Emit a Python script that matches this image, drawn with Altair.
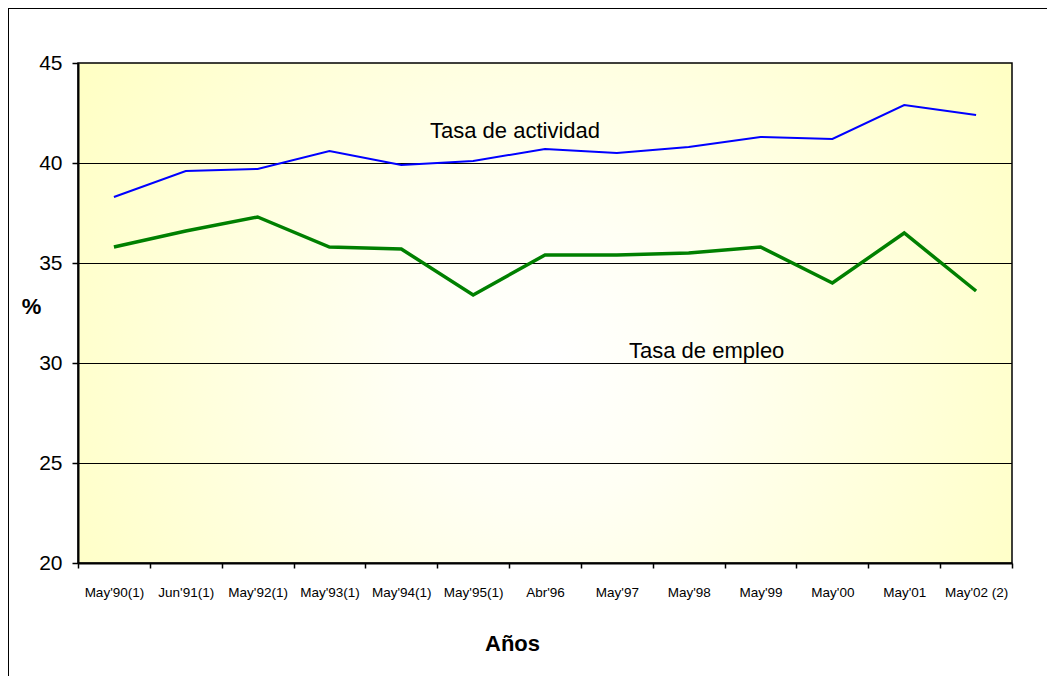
import altair as alt
import pandas as pd

categories = ["May'90(1)", "Jun'91(1)", "May'92(1)", "May'93(1)", "May'94(1)",
              "May'95(1)", "Abr'96", "May'97", "May'98", "May'99", "May'00",
              "May'01", "May'02 (2)"]
actividad = [38.3, 39.6, 39.7, 40.6, 39.9, 40.1, 40.7, 40.5, 40.8, 41.3, 41.2, 42.9, 42.4]
empleo = [35.8, 36.6, 37.3, 35.8, 35.7, 33.4, 35.4, 35.4, 35.5, 35.8, 34.0, 36.5, 33.6]
y_ticks = [20, 25, 30, 35, 40, 45]
grid_values = [25, 30, 35, 40]
label_text = ["Tasa de actividad", "Tasa de empleo"]
label_cat = ["Abr'96", "May'98"]
label_value = [41.6, 30.6]

W, H = 934, 500
FONT = "Liberation Sans"

df_act = pd.DataFrame({"cat": categories, "value": actividad})
df_emp = pd.DataFrame({"cat": categories, "value": empleo})
df_grid = pd.DataFrame({"value": grid_values})
df_one = pd.DataFrame({"a": [0]})

x_scale = alt.Scale(type="band", domain=categories, paddingInner=0, paddingOuter=0)
y_scale = alt.Scale(domain=[20, 45], nice=False, zero=False)

x_axis = alt.Axis(title="Años", labelAngle=0, labelFont=FONT, labelFontSize=13.5,
                  labelColor="#000", labelPadding=17, tickBand="extent", tickSize=5,
                  tickColor="#000", tickWidth=1.5, domainColor="#000", domainWidth=2,
                  grid=False, titleFont=FONT, titleFontSize=22, titleFontWeight="bold",
                  titleColor="#000", titleX=434, titleY=80, titleBaseline="middle",
                  titleAlign="center", zindex=1)
y_axis = alt.Axis(title="%", values=y_ticks, labelFont=FONT, labelFontSize=21,
                  labelColor="#000", labelPadding=10, tickSize=6, tickColor="#000",
                  tickWidth=1.5, domainColor="#000", domainWidth=2, grid=False,
                  titleFont=FONT, titleFontSize=22, titleFontWeight="bold",
                  titleColor="#000", titleAngle=0, titleX=-47, titleY=243,
                  titleAlign="center", titleBaseline="middle", zindex=1)

gradient = {
    "gradient": "radial",
    "x1": 0.5, "y1": 0.55, "r1": 0,
    "x2": 0.5, "y2": 0.55, "r2": 0.62,
    "stops": [
        {"offset": 0, "color": "#ffffff"},
        {"offset": 0.25, "color": "#fffff4"},
        {"offset": 1, "color": "#ffffc0"},
    ],
}

frame_left = alt.Chart(df_one).mark_rule(color="#000", strokeWidth=1).encode(
    x=alt.value(-69.5), y=alt.value(-55), y2=alt.value(700)
)
frame_top = alt.Chart(df_one).mark_rule(color="#000", strokeWidth=1).encode(
    x=alt.value(-70), x2=alt.value(1100), y=alt.value(-54.5)
)

background = alt.Chart(df_one).mark_rect(fill=gradient, stroke="#000", strokeWidth=1.5).encode(
    x=alt.value(0), x2=alt.value(W), y=alt.value(0), y2=alt.value(H)
)

grid = alt.Chart(df_grid).mark_rule(color="#000", strokeWidth=1, yOffset=0.5).encode(
    y=alt.Y("value:Q", scale=y_scale, axis=y_axis)
)

line_act = alt.Chart(df_act).mark_line(color="#0000ff", strokeWidth=2).encode(
    x=alt.X("cat:N", scale=x_scale, axis=x_axis, sort=categories),
    y=alt.Y("value:Q", scale=y_scale, axis=y_axis),
)
line_emp = alt.Chart(df_emp).mark_line(color="#008000", strokeWidth=3.5).encode(
    x=alt.X("cat:N", scale=x_scale, axis=x_axis, sort=categories),
    y=alt.Y("value:Q", scale=y_scale, axis=y_axis),
)

df_lab = pd.DataFrame({"cat": label_cat, "value": label_value, "text": label_text})
text_act = alt.Chart(df_lab.iloc[[0]]).mark_text(
    font=FONT, fontSize=22, color="#000", dx=-30, baseline="middle", align="center"
).encode(
    x=alt.X("cat:N", scale=x_scale, axis=x_axis, sort=categories),
    y=alt.Y("value:Q", scale=y_scale, axis=y_axis),
    text="text:N",
)
text_emp = alt.Chart(df_lab.iloc[[1]]).mark_text(
    font=FONT, fontSize=22, color="#000", dx=18, baseline="middle", align="center"
).encode(
    x=alt.X("cat:N", scale=x_scale, axis=x_axis, sort=categories),
    y=alt.Y("value:Q", scale=y_scale, axis=y_axis),
    text="text:N",
)

chart = alt.layer(frame_left, frame_top, background, grid, line_act, line_emp,
                  text_act, text_emp).properties(
    width=W, height=H,
    padding={"left": 70, "top": 55, "right": 35, "bottom": 113},
    autosize=alt.AutoSizeParams(type="none"),
    background="#ffffff",
).configure_view(strokeWidth=0)

chart.save("out.html", embed_options={"renderer": "svg", "actions": False})
